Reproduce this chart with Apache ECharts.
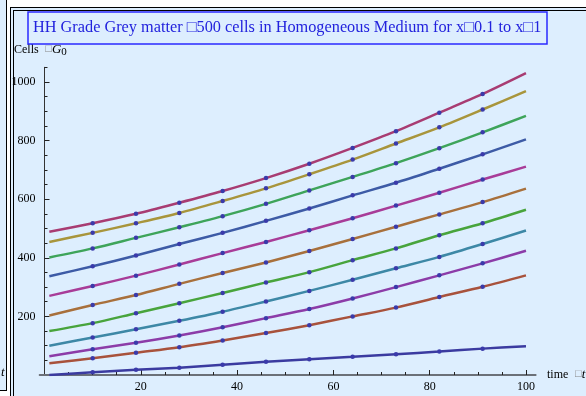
<!DOCTYPE html>
<html>
<head>
<meta charset="utf-8">
<script src="https://cdn.jsdelivr.net/npm/echarts@6/dist/echarts.min.js"></script>
<style>
    html, body { margin: 0; padding: 0; width: 586px; height: 396px; overflow: hidden; background: #fff; }
    #side { position: absolute; left: -4px; top: -4px; width: 9px; height: 393px; background: #ddeefe; border: 1.5px solid #000; }
    #frame { position: absolute; left: 10px; top: 7px; width: 620px; height: 430px; background: #ddeefe; border: 4px double #000; }
    #main { position: absolute; left: 0; top: 0; width: 586px; height: 396px; }
</style>
</head>
<body>
<div id="side"></div>
<div id="frame"></div>
<div id="main"></div>
<script>
// time samples (curve ends + the 10 mesh points)
var times = [1, 10, 19, 28, 37, 46, 55, 64, 73, 82, 91, 100];

// cells per curve (top curve first)
var line01 = [489, 518, 550, 588, 628, 672, 721, 775, 832, 895, 959, 1030];
var line02 = [454, 485, 518, 553, 594, 637, 685, 735, 790, 845, 906, 969];
var line03 = [401, 432, 468, 504, 542, 584, 630, 676, 723, 774, 828, 884];
var line04 = [337, 371, 408, 447, 485, 526, 568, 613, 656, 704, 753, 804];
var line05 = [270, 304, 339, 377, 416, 454, 494, 535, 578, 622, 667, 711];
var line06 = [203, 239, 273, 311, 348, 384, 423, 464, 506, 548, 590, 636];
var line07 = [150, 177, 211, 245, 280, 316, 351, 392, 432, 477, 518, 564];
var line08 = [100, 128, 156, 185, 216, 251, 287, 325, 364, 403, 447, 493];
var line09 = [64, 88, 110, 135, 163, 194, 225, 261, 300, 340, 381, 424];
var line10 = [40, 57, 76, 95, 118, 143, 170, 200, 230, 266, 301, 340];
var line11 = [0, 9, 18, 25, 35, 45, 54, 62, 71, 80, 90, 98];

var xMajor = [20, 40, 60, 80, 100];
var xMinor = [5, 10, 15, 25, 30, 35, 45, 50, 55, 65, 70, 75, 85, 90, 95];
var yMajor = [200, 400, 600, 800, 1000];
var yMinor = [50, 100, 150, 250, 300, 350, 450, 500, 550, 650, 700, 750, 850, 900, 950, 1050];

var curves = [line11, line01, line02, line03, line04, line05, line06, line07, line08, line09, line10];
var colors = ['#3b3ba0', '#a83c72', '#a8953c', '#3ea45a', '#3d5ba6', '#a83c98',
              '#a8703c', '#48a43c', '#3d88a6', '#8c3ca8', '#a8523c'];

var serif = '"Liberation Serif", "DejaVu Serif", serif';
var yShift = -4.8;   // y axis sits on time = 0, a little right of the grid edge

function meshData(vals) {
    var out = [];
    for (var i = 0; i < times.length; i++) {
        var item = { value: [times[i], vals[i]] };
        // the curve ends carry no mesh point
        if (i == 0 || i == times.length - 1) item.symbol = 'none';
        out.push(item);
    }
    return out;
}

var series = [];
for (var k = 0; k < curves.length; k++) {
    series.push({
        type: 'line',
        data: meshData(curves[k]),
        smooth: 0.3,
        symbol: 'circle',
        symbolSize: 4.5,
        itemStyle: { color: '#3a3aaa' },
        lineStyle: { color: colors[k], width: 2.5 },
        silent: true,
        animation: false,
        z: 3
    });
}

var chart = echarts.init(document.getElementById('main'));

var option = {
    backgroundColor: 'transparent',
    animation: false,
    title: {
        text: 'HH Grade Grey matter \u25A1500 cells in Homogeneous Medium for x\u25A10.1 to x\u25A11',
        left: 28,
        top: 12,
        padding: [8, 6, 8, 5],
        borderColor: '#2a2aff',
        borderWidth: 1.5,
        textStyle: { fontFamily: serif, fontSize: 16.3, fontWeight: 'normal', color: '#2222dd' }
    },
    grid: { left: 39.7, top: 67.3, width: 495.9, height: 307.7, containLabel: false },
    xAxis: [{
        type: 'value', min: -1, max: 102, position: 'bottom',
        axisLine: { onZero: false, lineStyle: { color: '#6b7078', width: 2 } },
        axisTick: { inside: true, length: 5, customValues: xMajor, lineStyle: { color: '#222', width: 1 } },
        axisLabel: { customValues: xMajor, margin: 6, fontFamily: serif, fontSize: 12, color: '#000' },
        splitLine: { show: false }
    }, {
        type: 'value', min: -1, max: 102, position: 'bottom',
        axisLine: { show: false, onZero: false },
        axisTick: { inside: true, length: 3, customValues: xMinor, lineStyle: { color: '#222', width: 1 } },
        axisLabel: { show: false },
        splitLine: { show: false }
    }],
    yAxis: [{
        type: 'value', min: 0, max: 1050, position: 'left', offset: yShift,
        axisLine: { onZero: false, lineStyle: { color: '#333', width: 1 } },
        axisTick: { inside: true, length: 5, customValues: yMajor, lineStyle: { color: '#222', width: 1 } },
        axisLabel: {
            customValues: yMajor, margin: 9, fontFamily: serif, fontSize: 12, color: '#000',
            formatter: function (v) { return String(v); }
        },
        splitLine: { show: false }
    }, {
        type: 'value', min: 0, max: 1050, position: 'left', offset: yShift,
        axisLine: { show: false, onZero: false },
        axisTick: { inside: true, length: 3, customValues: yMinor, lineStyle: { color: '#222', width: 1 } },
        axisLabel: { show: false },
        splitLine: { show: false }
    }],
    graphic: [{
        type: 'text', left: 14, top: 43,
        style: {
            text: '{a|Cells}  {b|\u25A1}{g|G}{s|0}',
            rich: {
                a: { fontFamily: serif, fontSize: 12, fill: '#000' },
                b: { fontFamily: serif, fontSize: 11, fill: '#888' },
                g: { fontFamily: serif, fontSize: 13, fontStyle: 'italic', fill: '#000' },
                s: { fontFamily: serif, fontSize: 11, fill: '#000', padding: [6, 0, 0, 0] }
            }
        }
    }, {
        type: 'text', left: 547, top: 368,
        style: {
            text: '{a|time}  {b|\u25A1}{g|t}',
            rich: {
                a: { fontFamily: serif, fontSize: 12, fill: '#000' },
                b: { fontFamily: serif, fontSize: 11, fill: '#888' },
                g: { fontFamily: serif, fontSize: 13, fontStyle: 'italic', fill: '#000' }
            }
        }
    }, {
        type: 'text', left: 1, top: 366,
        style: { text: 't', fontFamily: serif, fontSize: 13, fontStyle: 'italic', fill: '#000' }
    }],
    series: series
};

chart.setOption(option);
</script>
</body>
</html>
